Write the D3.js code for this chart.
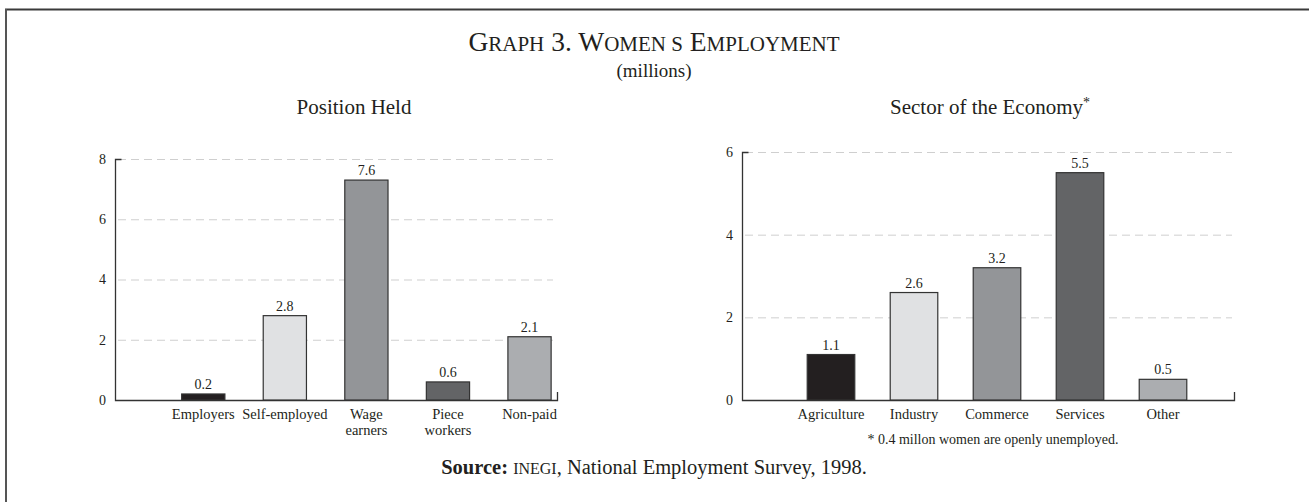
<!DOCTYPE html>
<html>
<head>
<meta charset="utf-8">
<script src="https://cdn.jsdelivr.net/npm/d3@7"></script>
<style>
  html, body { margin: 0; padding: 0; background: #fff; }
  text { font-family: "Liberation Serif", "DejaVu Serif", serif; fill: #231f20; }
</style>
</head>
<body>
<div id="chart"></div>
<script>
// Position held (left panel)
const positionCats = [["Employers"], ["Self-employed"], ["Wage", "earners"], ["Piece", "workers"], ["Non-paid"]];
const positionValues = [0.2, 2.8, 7.3, 0.6, 2.1];
const positionLabels = ["0.2", "2.8", "7.6", "0.6", "2.1"];
const positionTicks = [0, 2, 4, 6, 8];

// Sector of the economy (right panel)
const sectorCats = [["Agriculture"], ["Industry"], ["Commerce"], ["Services"], ["Other"]];
const sectorValues = [1.1, 2.6, 3.2, 5.5, 0.5];
const sectorLabels = ["1.1", "2.6", "3.2", "5.5", "0.5"];
const sectorTicks = [0, 2, 4, 6];

const barColors = ["#231f20", "#e0e1e3", "#939598", "#636466", "#abadb0"];

const width = 1309, height = 502;

const svg = d3.select("#chart").append("svg")
  .attr("width", width)
  .attr("height", height);

// frame (top + left rules only)
svg.append("line").attr("x1", 5).attr("x2", width).attr("y1", 9.5).attr("y2", 9.5)
  .attr("stroke", "#3a3a3a").attr("stroke-width", 2);
svg.append("line").attr("x1", 6).attr("x2", 6).attr("y1", 9).attr("y2", height)
  .attr("stroke", "#555").attr("stroke-width", 2);

// titles
const title = svg.append("text").attr("x", 654).attr("y", 51)
  .attr("text-anchor", "middle").style("font-size", "27.5px");
title.append("tspan").text("G");
title.append("tspan").style("font-size", "21px").text("RAPH");
title.append("tspan").text(" 3. W");
title.append("tspan").style("font-size", "21px").text("OMEN S");
title.append("tspan").text(" E");
title.append("tspan").style("font-size", "21px").text("MPLOYMENT");

svg.append("text").attr("x", 654).attr("y", 77).attr("text-anchor", "middle")
  .style("font-size", "19px").text("(millions)");

function panel(opts) {
  const { cats, values, labels, ticks, yMax, x0, x1, axisEnd, yTop, yBottom, bandRange, padInner } = opts;
  const g = svg.append("g");

  const y = d3.scaleLinear().domain([0, yMax]).range([yBottom, yTop]);
  const x = d3.scaleBand()
    .domain(d3.range(cats.length))
    .range(bandRange)
    .paddingInner(padInner)
    .paddingOuter(padInner / 2);

  // dashed gridlines
  g.append("g").selectAll("line")
    .data(ticks.filter(d => d > 0))
    .join("line")
    .attr("x1", x0 + 3).attr("x2", x1)
    .attr("y1", d => y(d) + 0.5).attr("y2", d => y(d) + 0.5)
    .attr("stroke", "#cfcfcf")
    .attr("stroke-width", 1)
    .attr("stroke-dasharray", "8,5");

  // y axis
  const yAxis = g.append("g")
    .attr("transform", `translate(${x0},0)`)
    .call(d3.axisLeft(y).tickValues(ticks).tickSize(0).tickPadding(9).tickFormat(d3.format("d")));
  yAxis.select(".domain").remove();
  yAxis.selectAll("text")
    .style("font-family", "Liberation Serif, serif")
    .style("font-size", "14px")
    .style("fill", "#231f20");

  g.append("path")
    .attr("d", `M${x0 + 6.5},${y(yMax) + 0.5}H${x0 + 0.5}V${y(0) + 0.5}H${axisEnd + 0.5}V${y(0) - 8}`)
    .attr("fill", "none")
    .attr("stroke", "#333")
    .attr("stroke-width", 1.3);

  // bars
  g.append("g").selectAll("rect")
    .data(values)
    .join("rect")
    .attr("x", (d, i) => x(i))
    .attr("y", d => y(d))
    .attr("width", x.bandwidth())
    .attr("height", d => y(0) - y(d))
    .attr("fill", (d, i) => barColors[i])
    .attr("stroke", "#333")
    .attr("stroke-width", 1.2);

  // value labels
  g.append("g").selectAll("text")
    .data(values)
    .join("text")
    .attr("x", (d, i) => x(i) + x.bandwidth() / 2)
    .attr("y", d => y(d) - 5)
    .attr("text-anchor", "middle")
    .style("font-size", "14px")
    .text((d, i) => labels[i]);

  // category labels
  const cl = g.append("g").selectAll("text")
    .data(cats)
    .join("text")
    .attr("x", (d, i) => x(i) + x.bandwidth() / 2)
    .attr("y", y(0) + 19)
    .attr("text-anchor", "middle")
    .style("font-size", "14.5px");
  cl.selectAll("tspan")
    .data(d => d)
    .join("tspan")
    .attr("x", function () { return this.parentNode.getAttribute("x"); })
    .attr("dy", (d, j) => j === 0 ? 0 : 16)
    .text(d => d);

  return g;
}

panel({
  cats: positionCats, values: positionValues, labels: positionLabels, ticks: positionTicks,
  yMax: 8, x0: 115, x1: 553, axisEnd: 557, yTop: 159, yBottom: 400,
  bandRange: [162.5, 570.3], padInner: 0.47
});

panel({
  cats: sectorCats, values: sectorValues, labels: sectorLabels, ticks: sectorTicks,
  yMax: 6, x0: 742, x1: 1232, axisEnd: 1234, yTop: 152, yBottom: 400,
  bandRange: [789.5, 1204.5], padInner: 0.427
});

// panel titles
svg.append("text").attr("x", 354).attr("y", 114).attr("text-anchor", "middle")
  .style("font-size", "21px").text("Position Held");
const st = svg.append("text").attr("x", 990).attr("y", 114).attr("text-anchor", "middle")
  .style("font-size", "21px");
st.append("tspan").text("Sector of the Economy");
st.append("tspan").attr("dy", -7).style("font-size", "14px").text("*");

// footnote
svg.append("text").attr("x", 993).attr("y", 444).attr("text-anchor", "middle")
  .style("font-size", "14px").text("* 0.4 millon women are openly unemployed.");

// source
const src = svg.append("text").attr("x", 654).attr("y", 474).attr("text-anchor", "middle")
  .style("font-size", "20.5px");
src.append("tspan").style("font-weight", "bold").text("Source: ");
src.append("tspan").style("font-size", "16px").text("INEGI");
src.append("tspan").text(", National Employment Survey, 1998.");
</script>
</body>
</html>
